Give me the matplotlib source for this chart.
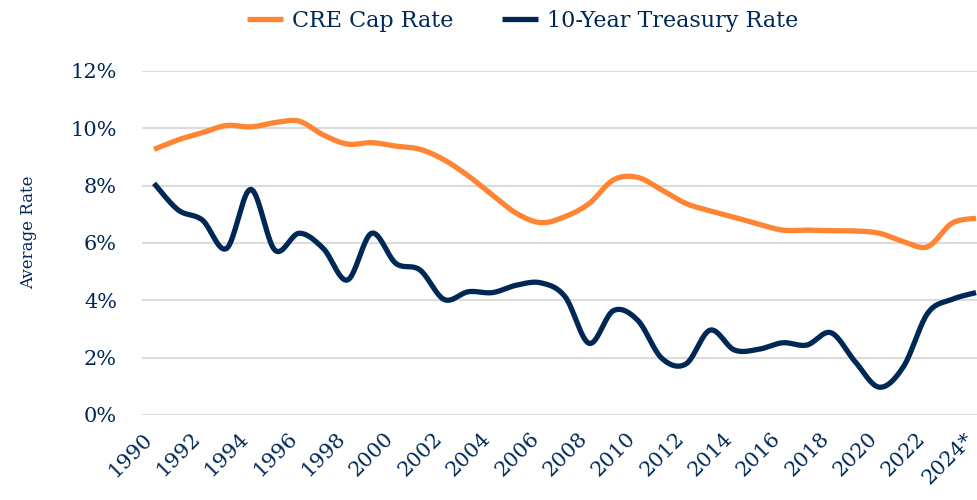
import matplotlib
matplotlib.use('Agg')
import matplotlib.pyplot as plt
import matplotlib.transforms as mtransforms
import numpy as np

# yearly averages
years = list(range(1990, 2025))
cre_cap_rate = [9.27, 9.6, 9.85, 10.1, 10.05, 10.2, 10.25, 9.77, 9.45, 9.5,
                9.38, 9.27, 8.9, 8.34, 7.67, 7.03, 6.71, 6.92, 7.38, 8.2,
                8.29, 7.85, 7.38, 7.12, 6.9, 6.66, 6.45, 6.45, 6.43, 6.42,
                6.34, 6.05, 5.87, 6.69, 6.86]
treasury_10y = [8.08, 7.15, 6.8, 5.81, 7.87, 5.75, 6.34, 5.81, 4.71, 6.34,
                5.29, 5.06, 4.03, 4.3, 4.27, 4.53, 4.61, 4.13, 2.5, 3.64,
                3.31, 1.98, 1.78, 2.96, 2.27, 2.29, 2.52, 2.44, 2.87, 1.86,
                0.97, 1.69, 3.55, 4.03, 4.27]
tick_years = list(range(1990, 2025, 2))
tick_labels = [str(y) for y in tick_years[:-1]] + ['2024*']

orange = '#FF8533'
navy = '#002855'


# smoothed line like the spreadsheet "smooth line" option (Catmull-Rom)
def smooth(x, y, n=20):
    x = np.asarray(x, float)
    y = np.asarray(y, float)
    px = np.concatenate([[x[0]], x, [x[-1]]])
    py = np.concatenate([[y[0]], y, [y[-1]]])
    t = np.linspace(0, 1, n, endpoint=False)
    xs, ys = [], []
    for i in range(1, len(px) - 2):
        for p, out in ((px, xs), (py, ys)):
            p0, p1, p2, p3 = p[i - 1], p[i], p[i + 1], p[i + 2]
            out.extend(0.5 * ((2 * p1) + (-p0 + p2) * t
                              + (2 * p0 - 5 * p1 + 4 * p2 - p3) * t ** 2
                              + (-p0 + 3 * p1 - 3 * p2 + p3) * t ** 3))
    xs.append(x[-1])
    ys.append(y[-1])
    return xs, ys


plt.rcParams['font.family'] = ['DejaVu Serif']

fig = plt.figure(figsize=(9.77, 5), dpi=100)
ax = fig.add_axes([0.1453, 0.17, 0.8547, 0.688])

ax.plot(*smooth(years, cre_cap_rate), color=orange, lw=3.8,
        label='CRE Cap Rate', solid_capstyle='butt')
ax.plot(*smooth(years, treasury_10y), color=navy, lw=3.8,
        label='10-Year Treasury Rate', solid_capstyle='butt')

ax.set_xlim(1989.5, 2024.04)
ax.set_ylim(0, 12)
ax.set_yticks(range(0, 13, 2))
ax.set_yticklabels([f'{v}%' for v in range(0, 13, 2)])
ax.set_xticks(tick_years)
ax.set_xticklabels(tick_labels, rotation=45, ha='right', va='center',
                   rotation_mode='anchor')
ax.tick_params(axis='both', length=0, labelsize=15, labelcolor=navy)
ax.tick_params(axis='y', pad=18)
ax.tick_params(axis='x', pad=15)
shift = mtransforms.ScaledTranslation(-5 / 100, 0, fig.dpi_scale_trans)
for lab in ax.get_xticklabels():
    lab.set_transform(lab.get_transform() + shift)

ax.grid(axis='y', color='#dcdcdc', lw=1.5)
ax.set_axisbelow(True)
for s in ax.spines.values():
    s.set_visible(False)

ax.set_ylabel('Average Rate', fontsize=12, color=navy)
ax.yaxis.set_label_coords(-0.125, 0.53)

fig.legend(loc='center', bbox_to_anchor=(0.535, 0.958), ncol=2, frameon=False,
           fontsize=16, labelcolor=navy, handlelength=1.6, handletextpad=0.4,
           columnspacing=2.2)

plt.savefig('out.png', dpi=100)
